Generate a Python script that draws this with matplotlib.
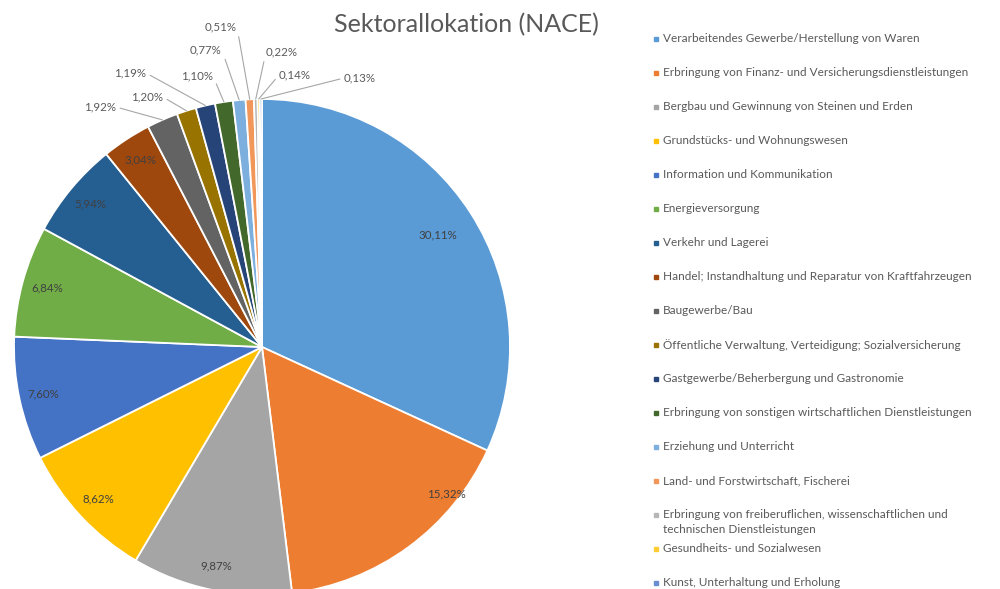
import numpy as np
import matplotlib
matplotlib.use("Agg")
from matplotlib import pyplot as plt

# sector names (legend order = slice order, clockwise from 12 o'clock)
sectors = [
    "Verarbeitendes Gewerbe/Herstellung von Waren",
    "Erbringung von Finanz- und Versicherungsdienstleistungen",
    "Bergbau und Gewinnung von Steinen und Erden",
    "Grundstücks- und Wohnungswesen",
    "Information und Kommunikation",
    "Energieversorgung",
    "Verkehr und Lagerei",
    "Handel; Instandhaltung und Reparatur von Kraftfahrzeugen",
    "Baugewerbe/Bau",
    "Öffentliche Verwaltung, Verteidigung; Sozialversicherung",
    "Gastgewerbe/Beherbergung und Gastronomie",
    "Erbringung von sonstigen wirtschaftlichen Dienstleistungen",
    "Erziehung und Unterricht",
    "Land- und Forstwirtschaft, Fischerei",
    "Erbringung von freiberuflichen, wissenschaftlichen und\ntechnischen Dienstleistungen",
    "Gesundheits- und Sozialwesen",
    "Kunst, Unterhaltung und Erholung",
]
shares = [30.11, 15.32, 9.87, 8.62, 7.60, 6.84, 5.94, 3.04, 1.92, 1.20,
          1.19, 1.10, 0.77, 0.51, 0.22, 0.14, 0.13]
colors = ["#5B9BD5", "#ED7D31", "#A5A5A5", "#FFC000", "#4472C4", "#70AD47",
          "#255E91", "#9E480E", "#636363", "#997300", "#264478", "#43682B",
          "#7CAFDD", "#F1975A", "#B7B7B7", "#FFCD33", "#698ED0"]

# outside label positions (pixels) for the small slices, index 8..16
outside_px = [(100, 107), (147, 97), (130, 73), (197, 76), (206, 50),
              (221, 27), (282, 52), (295, 75), (360, 78)]

txt = "#595959"
font = ["Lato", "DejaVu Sans"]
plt.rcParams["font.family"] = font

W, H = 1000, 589
fig = plt.figure(figsize=(W / 100, H / 100), dpi=100)
cx, cy, R = 262, 347, 248
ax = fig.add_axes([(cx - R) / W, (H - cy - R) / H, 2 * R / W, 2 * R / H])

wedges, _ = ax.pie(shares, colors=colors, startangle=90, counterclock=False,
                   radius=1, wedgeprops=dict(edgecolor="white", linewidth=1.3),
                   normalize=True)
ax.set_xlim(-1, 1)
ax.set_ylim(-1, 1)
ax.set_aspect("equal")
ax.axis("off")


def px2d(p):
    return ((p[0] - cx) / R, (cy - p[1]) / R)


def lab(v):
    return ("%.2f%%" % v).replace(".", ",")


for i, (w, v) in enumerate(zip(wedges, shares)):
    mid = np.deg2rad((w.theta1 + w.theta2) / 2)
    if i < 8:
        r = 0.9
        if i == 0:
            r = 0.84
        if i == 1:
            mid = np.deg2rad(w.theta2 - 14)
            r = 0.95
        ax.text(r * np.cos(mid), r * np.sin(mid), lab(v), ha="center",
                va="center", fontsize=8.3, color="#404040")
    else:
        tx, ty = px2d(outside_px[i - 8])
        ex, ey = np.cos(mid), np.sin(mid)
        left = tx < ex
        ax.annotate(lab(v), xy=(ex, ey), xytext=(tx, ty), ha="center",
                    va="center", fontsize=8.3, color=txt,
                    annotation_clip=False,
                    arrowprops=dict(arrowstyle="-", color="#A6A6A6", lw=0.8,
                                    shrinkA=1, shrinkB=0,
                                    relpos=(1, 0.5) if left else (0, 0.5)))

fig.text(0.466, 1 - 25 / H, "Sektorallokation (NACE)", ha="center",
         va="center", fontsize=18, color=txt)

# legend drawn by hand to keep Excel's even row spacing
for i, (name, c) in enumerate(zip(sectors, colors)):
    y = 39 + 34 * i
    fig.patches.append(plt.Rectangle((654 / W, 1 - (y + 2) / H), 4 / W, 4 / H,
                                     transform=fig.transFigure, color=c))
    fig.text(663 / W, 1 - (y - 6) / H, name, ha="left", va="top",
             fontsize=8.5, color=txt, linespacing=1.4)

fig.savefig("out.png", dpi=100)
